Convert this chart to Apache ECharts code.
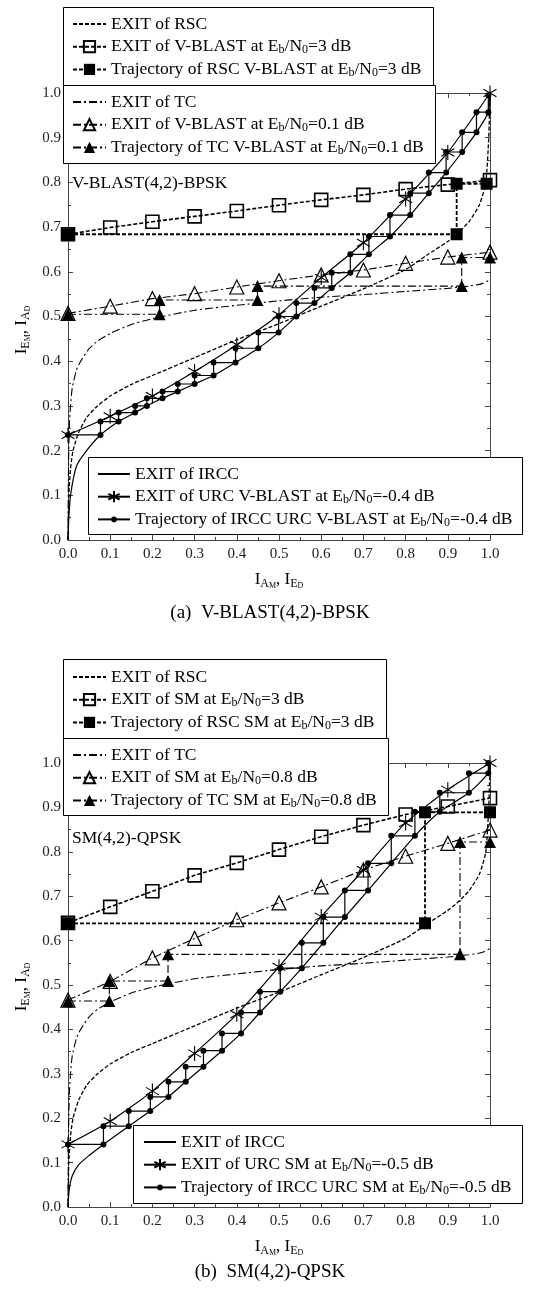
<!DOCTYPE html>
<html>
<head>
<meta charset="utf-8">
<script src="https://cdn.jsdelivr.net/npm/echarts@6/dist/echarts.min.js"></script>
<style>
  body { margin: 0; background: #fff; }
  .chart { width: 551px; height: 646px; }
</style>
</head>
<body>
<div id="chartA" class="chart"></div>
<div id="chartB" class="chart"></div>
<script>
const FF = '"Liberation Serif", "DejaVu Serif", serif'

const tickLabels = ['0.0', '0.1', '0.2', '0.3', '0.4', '0.5', '0.6', '0.7', '0.8', '0.9', '1.0']

// outer code curves, same in both panels (x = I_ED, y = I_AD)
const exitRSC = [[0, 0], [0.002, 0.1], [0.006, 0.16], [0.012, 0.2], [0.025, 0.24], [0.045, 0.275], [0.07, 0.3], [0.1, 0.322], [0.15, 0.348], [0.2, 0.368], [0.3, 0.408], [0.4, 0.448], [0.5, 0.484], [0.6, 0.523], [0.7, 0.562], [0.8, 0.605], [0.85, 0.637], [0.9, 0.668], [0.921, 0.684], [0.95, 0.712], [0.975, 0.75], [0.99, 0.8], [0.997, 0.9], [1, 1]]
const exitTC = [[0, 0], [0.001, 0.15], [0.003, 0.25], [0.006, 0.3], [0.01, 0.34], [0.02, 0.38], [0.03, 0.4], [0.05, 0.428], [0.07, 0.445], [0.1, 0.462], [0.15, 0.482], [0.2, 0.495], [0.3, 0.514], [0.4, 0.525], [0.5, 0.535], [0.6, 0.543], [0.7, 0.549], [0.8, 0.556], [0.9, 0.563], [0.95, 0.568], [0.98, 0.573], [1, 0.582]]

// (a) V-BLAST(4,2)-BPSK
const vblast3dB = [[0, 0.684], [0.1, 0.699], [0.2, 0.712], [0.3, 0.724], [0.4, 0.736], [0.5, 0.749], [0.6, 0.761], [0.7, 0.772], [0.8, 0.785], [0.9, 0.795], [1, 0.805]]
const trajRSCvblast = [[0, 0.684], [0.921, 0.684], [0.921, 0.797], [0.992, 0.797]]
const vblast01dB = [[0, 0.507], [0.1, 0.523], [0.2, 0.54], [0.3, 0.551], [0.4, 0.566], [0.5, 0.58], [0.6, 0.593], [0.7, 0.604], [0.8, 0.619], [0.9, 0.633], [1, 0.644]]
const trajTCvblast = [[0, 0.505], [0.217, 0.505], [0.217, 0.537], [0.449, 0.537], [0.449, 0.568], [0.933, 0.568], [0.933, 0.632], [1, 0.632]]
const irccA = [[0, 0], [0.002, 0.05], [0.006, 0.1], [0.02, 0.165], [0.044, 0.2], [0.077, 0.235], [0.12, 0.265], [0.159, 0.285], [0.187, 0.3], [0.224, 0.317], [0.26, 0.332], [0.3, 0.349], [0.345, 0.368], [0.397, 0.397], [0.451, 0.429], [0.499, 0.464], [0.541, 0.5], [0.584, 0.53], [0.625, 0.564], [0.669, 0.598], [0.713, 0.639], [0.763, 0.679], [0.811, 0.727], [0.855, 0.776], [0.896, 0.822], [0.934, 0.868], [0.968, 0.912], [0.996, 0.957], [1, 1]]
const urcVblast = [[0, 0.235], [0.1, 0.277], [0.2, 0.322], [0.3, 0.377], [0.4, 0.437], [0.5, 0.504], [0.6, 0.587], [0.7, 0.665], [0.8, 0.763], [0.9, 0.867], [1, 1]]
const trajIRCCvblast = [[0, 0.235], [0.077, 0.235], [0.077, 0.265], [0.12, 0.265], [0.12, 0.285], [0.159, 0.285], [0.159, 0.3], [0.187, 0.3], [0.187, 0.317], [0.224, 0.317], [0.224, 0.332], [0.26, 0.332], [0.26, 0.349], [0.3, 0.349], [0.3, 0.368], [0.345, 0.368], [0.345, 0.397], [0.397, 0.397], [0.397, 0.429], [0.451, 0.429], [0.451, 0.464], [0.499, 0.464], [0.499, 0.5], [0.541, 0.5], [0.541, 0.53], [0.584, 0.53], [0.584, 0.564], [0.625, 0.564], [0.625, 0.598], [0.669, 0.598], [0.669, 0.639], [0.713, 0.639], [0.713, 0.679], [0.763, 0.679], [0.763, 0.727], [0.811, 0.727], [0.811, 0.776], [0.855, 0.776], [0.855, 0.822], [0.896, 0.822], [0.896, 0.868], [0.934, 0.868], [0.934, 0.912], [0.968, 0.912], [0.968, 0.957], [0.996, 0.957], [0.996, 0.995]]

// (b) SM(4,2)-QPSK
const sm3dB = [[0, 0.64], [0.1, 0.676], [0.2, 0.711], [0.3, 0.747], [0.4, 0.775], [0.5, 0.805], [0.6, 0.834], [0.7, 0.86], [0.8, 0.884], [0.9, 0.902], [1, 0.921]]
const trajRSCsm = [[0, 0.639], [0.846, 0.639], [0.846, 0.889], [1, 0.889]]
const sm08dB = [[0, 0.466], [0.1, 0.508], [0.2, 0.561], [0.3, 0.605], [0.4, 0.647], [0.5, 0.685], [0.6, 0.721], [0.7, 0.759], [0.8, 0.79], [0.9, 0.819], [1, 0.849]]
const trajTCsm = [[0, 0.464], [0.098, 0.464], [0.098, 0.509], [0.237, 0.509], [0.237, 0.569], [0.929, 0.569], [0.929, 0.822], [1, 0.822]]
const irccB = [[0, 0], [0.003, 0.04], [0.01, 0.07], [0.025, 0.095], [0.05, 0.116], [0.084, 0.141], [0.144, 0.182], [0.195, 0.216], [0.238, 0.248], [0.279, 0.282], [0.321, 0.316], [0.365, 0.352], [0.41, 0.391], [0.455, 0.438], [0.503, 0.485], [0.554, 0.538], [0.605, 0.595], [0.656, 0.653], [0.711, 0.713], [0.766, 0.774], [0.822, 0.836], [0.881, 0.89], [0.95, 0.933], [0.996, 0.977], [1, 1]]
const urcSm = [[0, 0.141], [0.1, 0.193], [0.2, 0.261], [0.3, 0.346], [0.4, 0.434], [0.5, 0.541], [0.6, 0.654], [0.7, 0.759], [0.8, 0.865], [0.9, 0.94], [1, 1]]
const trajIRCCsm = [[0, 0.141], [0.084, 0.141], [0.084, 0.182], [0.144, 0.182], [0.144, 0.216], [0.195, 0.216], [0.195, 0.248], [0.238, 0.248], [0.238, 0.282], [0.279, 0.282], [0.279, 0.316], [0.321, 0.316], [0.321, 0.352], [0.365, 0.352], [0.365, 0.391], [0.41, 0.391], [0.41, 0.438], [0.455, 0.438], [0.455, 0.485], [0.503, 0.485], [0.503, 0.538], [0.554, 0.538], [0.554, 0.595], [0.605, 0.595], [0.605, 0.653], [0.656, 0.653], [0.656, 0.713], [0.711, 0.713], [0.711, 0.774], [0.766, 0.774], [0.766, 0.836], [0.822, 0.836], [0.822, 0.89], [0.881, 0.89], [0.881, 0.933], [0.95, 0.933], [0.95, 0.977], [0.996, 0.977], [0.996, 1]]

const STAR = 'path://M0,-10L0,10M-8.66,-5L8.66,5M-8.66,5L8.66,-5'
const DASH = [4, 2]
const DASHDOT = [8, 3, 2, 3]
const subRich = { s: { fontSize: 12, lineHeight: 8, verticalAlign: 'bottom', fontFamily: FF } }
const titleRich = {
  a: { fontSize: 12, lineHeight: 10, verticalAlign: 'bottom', fontFamily: FF },
  b: { fontSize: 8, lineHeight: 4, verticalAlign: 'bottom', fontFamily: FF }
}

function line(name, data, opt) {
  return Object.assign({
    name: name,
    type: 'line',
    data: data,
    showSymbol: opt.symbol !== undefined,
    symbol: 'none',
    symbolSize: 12,
    lineStyle: { color: '#000', width: 1.2, type: 'solid' },
    itemStyle: { color: '#000' },
    emphasis: { disabled: true },
    silent: true,
    z: 2
  }, opt)
}

function legend(names, left, rowTop, itemHeight, itemWidth) {
  return {
    orient: 'vertical',
    left: left,
    top: rowTop - 9,
    padding: 0,
    itemGap: 4.7,
    itemWidth: itemWidth,
    itemHeight: itemHeight,
    selectedMode: false,
    z: 6,
    data: names.map(n => typeof n === 'string' ? { name: n } : n),
    formatter: n => n,
    textStyle: { fontFamily: FF, fontSize: 17.5, lineHeight: 18, color: '#000', rich: subRich }
  }
}

function axis(pos, labels) {
  return {
    type: 'value',
    position: pos,
    min: 0,
    max: 1,
    interval: 0.1,
    axisLine: { show: true, onZero: false, lineStyle: { color: '#444', width: 1 } },
    axisTick: { show: true, inside: true, length: 5, lineStyle: { color: '#444' } },
    minorTick: { show: true, splitNumber: 2, length: 3, lineStyle: { color: '#444' } },
    splitLine: { show: false },
    axisLabel: {
      show: labels,
      margin: 7,
      fontFamily: FF,
      fontSize: 15,
      color: '#222',
      formatter: v => tickLabels[Math.round(v * 10)]
    }
  }
}

function makeChart(el, p) {
  const chart = echarts.init(document.getElementById(el))
  const n = p.names
  const series = [
    line('EXIT of RSC', exitRSC, { lineStyle: { color: '#000', width: 1.3, type: DASH }, smooth: 0.2 }),
    line('EXIT of TC', exitTC, { lineStyle: { color: '#000', width: 1.1, type: DASHDOT }, smooth: 0.2 }),
    line(n.exit3, p.exit3, {
      symbol: 'rect', symbolSize: 13,
      lineStyle: { color: '#000', width: 1.6, type: DASH },
      itemStyle: { color: 'transparent', borderColor: '#000', borderWidth: 1.6 }
    }),
    line(n.exitLow, p.exitLow, {
      symbol: 'triangle', symbolSize: 14,
      lineStyle: { color: '#000', width: 1.1, type: DASHDOT },
      itemStyle: { color: 'transparent', borderColor: '#000', borderWidth: 1.2 }
    }),
    line('EXIT of IRCC', p.ircc, { lineStyle: { color: '#000', width: 1.2 }, smooth: 0.2 }),
    line(n.urc, p.urc, {
      symbol: STAR, symbolSize: 15, symbolKeepAspect: true, smooth: 0.2,
      lineStyle: { color: '#000', width: 1.2 },
      itemStyle: { color: 'transparent', borderColor: '#000', borderWidth: 1.1 }
    }),
    line(n.trajRSC, p.trajRSC, {
      symbol: 'rect', symbolSize: 12, z: 3,
      lineStyle: { color: '#000', width: 1.8, type: DASH },
      itemStyle: { color: '#000' }
    }),
    line(n.trajTC, p.trajTC, {
      symbol: 'triangle', symbolSize: 12, z: 3,
      lineStyle: { color: '#000', width: 1.1, type: DASHDOT },
      itemStyle: { color: '#000' }
    }),
    line(n.trajIRCC, p.trajIRCC, {
      symbol: 'circle', symbolSize: 6, z: 3,
      lineStyle: { color: '#000', width: 1.2 },
      itemStyle: { color: '#000' }
    })
  ]
  const noMark = { color: 'transparent', borderColor: 'transparent', borderWidth: 0 }
  const L = p.layout
  const boxes = L.boxes.map(b => ({
    type: 'rect', z: 5,
    shape: { x: b[0] + 0.5, y: b[1] + 0.5, width: b[2], height: b[3] },
    style: { fill: '#fff', stroke: '#000', lineWidth: 1 }
  }))
  const texts = [
    {
      type: 'text', z: 7, x: 72, y: L.panelY,
      style: { text: p.panel, fontFamily: FF, fontSize: 17.5, fill: '#000', align: 'left', verticalAlign: 'middle' }
    },
    {
      type: 'text', z: 7, x: 279, y: L.xTitleY,
      style: { text: 'I{a|A}{b|M}, I{a|E}{b|D}', rich: titleRich, fontFamily: FF, fontSize: 17, lineHeight: 20, fill: '#000', align: 'center', verticalAlign: 'middle' }
    },
    {
      type: 'text', z: 7, x: 22, y: L.yTitleY, rotation: Math.PI / 2,
      style: { text: 'I{a|E}{b|M}, I{a|A}{b|D}', rich: titleRich, fontFamily: FF, fontSize: 17, lineHeight: 20, fill: '#000', align: 'center', verticalAlign: 'middle' }
    },
    {
      type: 'text', z: 7, x: 270, y: L.captionY,
      style: { text: p.caption, fontFamily: FF, fontSize: 19, fill: '#000', align: 'center', verticalAlign: 'middle' }
    }
  ]
  const option = {
    animation: false,
    backgroundColor: '#fff',
    grid: { left: 68, top: L.gridTop, width: 422, height: L.gridHeight, containLabel: false },
    xAxis: [axis('bottom', true), axis('top', false)],
    yAxis: [axis('left', true), axis('right', false)],
    legend: [
      legend([{ name: 'EXIT of RSC', itemStyle: noMark }, n.exit3, n.trajRSC], 72, L.rows1, 14, 33),
      legend([{ name: 'EXIT of TC', itemStyle: noMark }, n.exitLow, n.trajTC], 72, L.rows2, 14, 33),
      legend([{ name: 'EXIT of IRCC', itemStyle: noMark }, n.urc], L.legend3Left, L.rows3, 14, 32),
      legend([n.trajIRCC], L.legend3Left, L.rows3 + 45.4, 7, 32)
    ],
    graphic: boxes.concat(texts),
    series: series
  }
  chart.setOption(option)
  return chart
}

makeChart('chartA', {
  panel: 'V-BLAST(4,2)-BPSK',
  caption: '(a)  V-BLAST(4,2)-BPSK',
  names: {
    exit3: 'EXIT of V-BLAST at E{s|b}/N{s|0}=3 dB',
    trajRSC: 'Trajectory of RSC V-BLAST at E{s|b}/N{s|0}=3 dB',
    exitLow: 'EXIT of V-BLAST at E{s|b}/N{s|0}=0.1 dB',
    trajTC: 'Trajectory of TC V-BLAST at E{s|b}/N{s|0}=0.1 dB',
    urc: 'EXIT of URC V-BLAST at E{s|b}/N{s|0}=-0.4 dB',
    trajIRCC: 'Trajectory of IRCC URC V-BLAST at E{s|b}/N{s|0}=-0.4 dB'
  },
  exit3: vblast3dB, trajRSC: trajRSCvblast,
  exitLow: vblast01dB, trajTC: trajTCvblast,
  ircc: irccA, urc: urcVblast, trajIRCC: trajIRCCvblast,
  layout: {
    gridTop: 93, gridHeight: 447,
    boxes: [[63, 7, 370, 78], [63, 85, 372, 78], [88, 457, 434, 77]],
    rows1: 24, rows2: 102, rows3: 474, legend3Left: 97,
    panelY: 183, xTitleY: 580, yTitleY: 330, captionY: 613
  }
})

makeChart('chartB', {
  panel: 'SM(4,2)-QPSK',
  caption: '(b)  SM(4,2)-QPSK',
  names: {
    exit3: 'EXIT of SM at E{s|b}/N{s|0}=3 dB',
    trajRSC: 'Trajectory of RSC SM at E{s|b}/N{s|0}=3 dB',
    exitLow: 'EXIT of SM at E{s|b}/N{s|0}=0.8 dB',
    trajTC: 'Trajectory of TC SM at E{s|b}/N{s|0}=0.8 dB',
    urc: 'EXIT of URC SM at E{s|b}/N{s|0}=-0.5 dB',
    trajIRCC: 'Trajectory of IRCC URC SM at E{s|b}/N{s|0}=-0.5 dB'
  },
  exit3: sm3dB, trajRSC: trajRSCsm,
  exitLow: sm08dB, trajTC: trajTCsm,
  ircc: irccB, urc: urcSm, trajIRCC: trajIRCCsm,
  layout: {
    gridTop: 117, gridHeight: 444,
    boxes: [[63, 13, 323, 79], [63, 92, 325, 77], [133, 479, 389, 78]],
    rows1: 31, rows2: 109, rows3: 496, legend3Left: 143,
    panelY: 192, xTitleY: 601, yTitleY: 341, captionY: 626
  }
})
</script>
</body>
</html>
